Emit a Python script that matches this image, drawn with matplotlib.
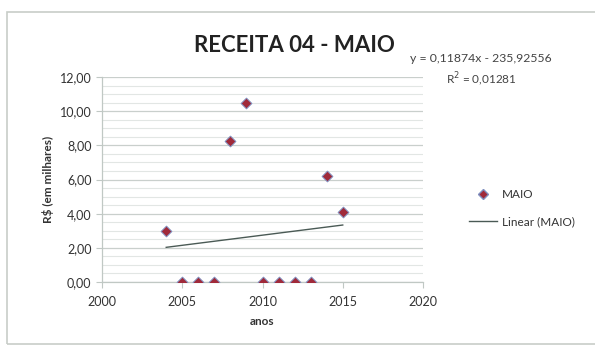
import numpy as np
import matplotlib.pyplot as plt
from matplotlib.ticker import MultipleLocator, FuncFormatter
from matplotlib.lines import Line2D
from matplotlib.patches import Rectangle

# --- data ---
anos = [2004, 2005, 2006, 2007, 2008, 2009, 2010, 2011, 2012, 2013, 2014, 2015]
maio = [3.00, 0.00, 0.00, 0.00, 8.25, 10.45, 0.00, 0.00, 0.00, 0.00, 6.20, 4.10]

# trend line as printed on the chart
slope = 0.11874
intercept = -235.92556
eq_text = "y = 0,11874x - 235,92556"
r2_text = "R$^2$ = 0,01281"

plt.rcParams['font.family'] = ['Lato', 'DejaVu Sans']

fig = plt.figure(figsize=(5.95, 3.47), dpi=100)
fig.patch.set_facecolor('white')

# light frame around the chart like the Excel chart area
fig.patches.append(Rectangle((7 / 595, 0.01), 1.2, 1 - 12 / 347 - 0.01,
                             transform=fig.transFigure, fill=False,
                             edgecolor='#c8cdc8', linewidth=1.2))

ax = fig.add_axes([102 / 595, 1 - 282 / 347, 321 / 595, 205 / 347])

ax.scatter(anos, maio, marker='D', s=30, facecolor='#a02a3a',
           edgecolor='#7f8fbf', linewidth=0.7, zorder=3)

x_fit = np.array([anos[0], anos[-1]])
ax.plot(x_fit, slope * x_fit + intercept, color='#4a5a55', linewidth=1.0, zorder=2)

ax.set_xlim(2000, 2020)
ax.set_ylim(0, 12)
ax.xaxis.set_major_locator(MultipleLocator(5))
ax.yaxis.set_major_locator(MultipleLocator(2))
ax.yaxis.set_minor_locator(MultipleLocator(0.5))
ax.yaxis.set_major_formatter(FuncFormatter(lambda v, p: f"{v:.2f}".replace('.', ',')))

ax.grid(True, axis='y', which='major', color='#c9cfcc', linewidth=0.9)
ax.grid(True, axis='y', which='minor', color='#e2e6e4', linewidth=0.8)
ax.set_axisbelow(True)

for s in ['top', 'right']:
    ax.spines[s].set_visible(False)
for s in ['left', 'bottom']:
    ax.spines[s].set_color('#c0c8c4')
    ax.spines[s].set_linewidth(0.9)

ax.tick_params(axis='both', which='major', labelsize=9, colors='#c0c8c4',
               labelcolor='#333333', length=4, direction='out')
ax.tick_params(axis='y', which='minor', length=0)
ax.tick_params(axis='x', pad=6)

ax.set_xlabel('anos', fontsize=8.5, fontweight='bold', color='#333333', labelpad=6)
ax.set_ylabel('R$ (em milhares)', fontsize=8.5, fontweight='bold', color='#333333', labelpad=4)

fig.text(0.495, 1 - 46 / 347, 'RECEITA 04 - MAIO', ha='center', va='center',
         fontsize=16, fontweight='bold', color='#222222')
fig.text(481 / 595, 1 - 58 / 347, eq_text, ha='center', va='center',
         fontsize=8.8, color='#444444')
fig.text(481 / 595, 1 - 79 / 347, r2_text, ha='center', va='center',
         fontsize=8.5, color='#444444')

handles = [
    Line2D([], [], marker='D', linestyle='none', markersize=5,
           markerfacecolor='#a02a3a', markeredgecolor='#7f8fbf', label='MAIO'),
    Line2D([], [], color='#4a5a55', linewidth=1.0, label='Linear (MAIO)'),
]
fig.legend(handles=handles, loc='center left', bbox_to_anchor=(458 / 595, 1 - 208 / 347),
           frameon=False, fontsize=8.5, labelspacing=1.4, handlelength=2.4,
           handletextpad=0.4, labelcolor='#333333')

fig.savefig('out.png', dpi=100)
